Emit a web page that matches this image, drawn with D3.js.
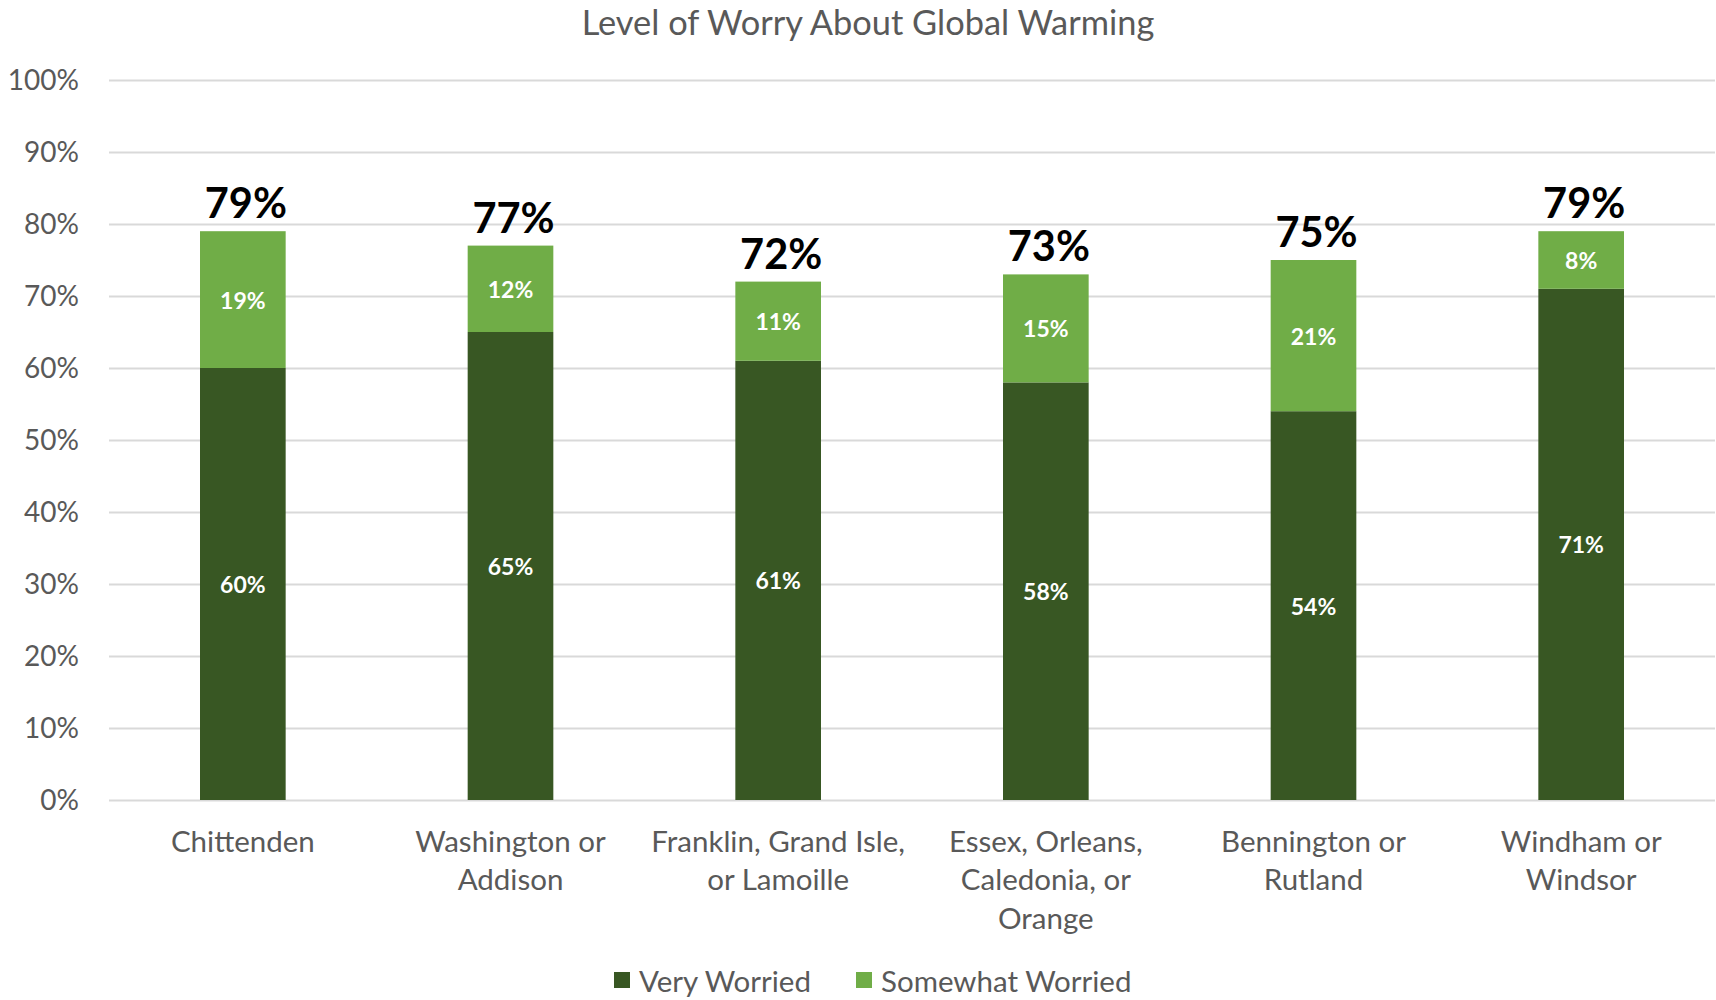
<!DOCTYPE html>
<html><head><meta charset="utf-8">
<script src="https://cdn.jsdelivr.net/npm/d3@7"></script>
<style>body{margin:0;background:#fff} text{font-family:Lato,'Open Sans',sans-serif}</style>
</head><body><svg id="c" width="1716" height="1000"></svg>
<script>
const categories = ["Chittenden","Washington or\nAddison","Franklin, Grand Isle,\nor Lamoille","Essex, Orleans,\nCaledonia, or\nOrange","Bennington or\nRutland","Windham or\nWindsor"];
const veryWorried = [0.60,0.65,0.61,0.58,0.54,0.71];
const somewhatWorried = [0.19,0.12,0.11,0.15,0.21,0.08];
const totals = [0.79,0.77,0.72,0.73,0.75,0.79];
const seriesNames = ["Very Worried","Somewhat Worried"];
const seriesColors = ["#385723","#70AD47"];
const yTicks = [0,0.1,0.2,0.3,0.4,0.5,0.6,0.7,0.8,0.9,1.0];
const title = "Level of Worry About Global Warming";

const svg = d3.select("#c");
const L=109, R=1715, T=80, B=800;
const x = d3.scaleBand().domain(categories).range([L,R]).paddingInner(0.68).paddingOuter(0.34);
const y = d3.scaleLinear().domain([0,1]).range([B,T]);
const fmt = d3.format(".0%");

svg.append("text").attr("x",868).attr("y",21).attr("text-anchor","middle").attr("dominant-baseline","central")
  .attr("fill","#595959").style("font-size","34.4px").text(title);

const ya = svg.append("g").attr("transform",`translate(${L},0)`)
  .call(d3.axisLeft(y).tickValues(yTicks).tickFormat(fmt).tickSize(-(R-L)).tickPadding(30));
ya.select(".domain").remove();
ya.selectAll(".tick line").attr("stroke","#d9d9d9").attr("stroke-width",2);
ya.selectAll(".tick text").attr("fill","#595959").style("font-size","28px").style("font-family","Lato").attr("dy","0.35em");

const rows = categories.map((c,i)=>({cat:c, v0:veryWorried[i], v1:somewhatWorried[i], tot:totals[i]}));
const stack = d3.stack().keys(["v0","v1"])(rows);
const g = svg.append("g");
stack.forEach((s,si)=>{
  g.selectAll(null).data(s).join("rect")
    .attr("x",d=>x(d.data.cat)).attr("width",x.bandwidth())
    .attr("y",d=>y(d[1])).attr("height",d=>y(d[0])-y(d[1]))
    .attr("fill",seriesColors[si]);
  g.selectAll(null).data(s).join("text")
    .attr("x",d=>x(d.data.cat)+x.bandwidth()/2).attr("y",d=>(y(d[0])+y(d[1]))/2)
    .attr("text-anchor","middle").attr("dominant-baseline","central")
    .attr("fill","#fff").style("font-weight","bold").style("font-size","23px")
    .text(d=>fmt(d[1]-d[0]));
});
g.selectAll(null).data(rows).join("text")
  .attr("x",d=>x(d.cat)+x.bandwidth()/2+3).attr("y",d=>y(d.tot)-13)
  .attr("text-anchor","middle").attr("fill","#000").style("font-weight","bold").style("font-size","41.5px")
  .text(d=>fmt(d.tot));

const xa = svg.append("g").attr("transform",`translate(0,${B})`).call(d3.axisBottom(x).tickSize(0).tickFormat(""));
xa.select(".domain").remove();
xa.selectAll(".tick").each(function(d){
  const t = d3.select(this).append("text").attr("fill","#595959").style("font-size","29.5px").style("font-family","Lato")
    .attr("text-anchor","middle");
  d.split("\n").forEach((ln,i)=>t.append("tspan").attr("x",0).attr("y",40+i*38.5).attr("dominant-baseline","central").text(ln));
});

const lg = svg.append("g").attr("transform","translate(0,980)");
const lx = [614,856];
seriesNames.forEach((n,i)=>{
  lg.append("rect").attr("x",lx[i]).attr("y",-8).attr("width",16).attr("height",16).attr("fill",seriesColors[i]);
  lg.append("text").attr("x",lx[i]+25).attr("y",0).attr("dominant-baseline","central").attr("fill","#595959").style("font-size","29.5px").text(n);
});
</script></body></html>
